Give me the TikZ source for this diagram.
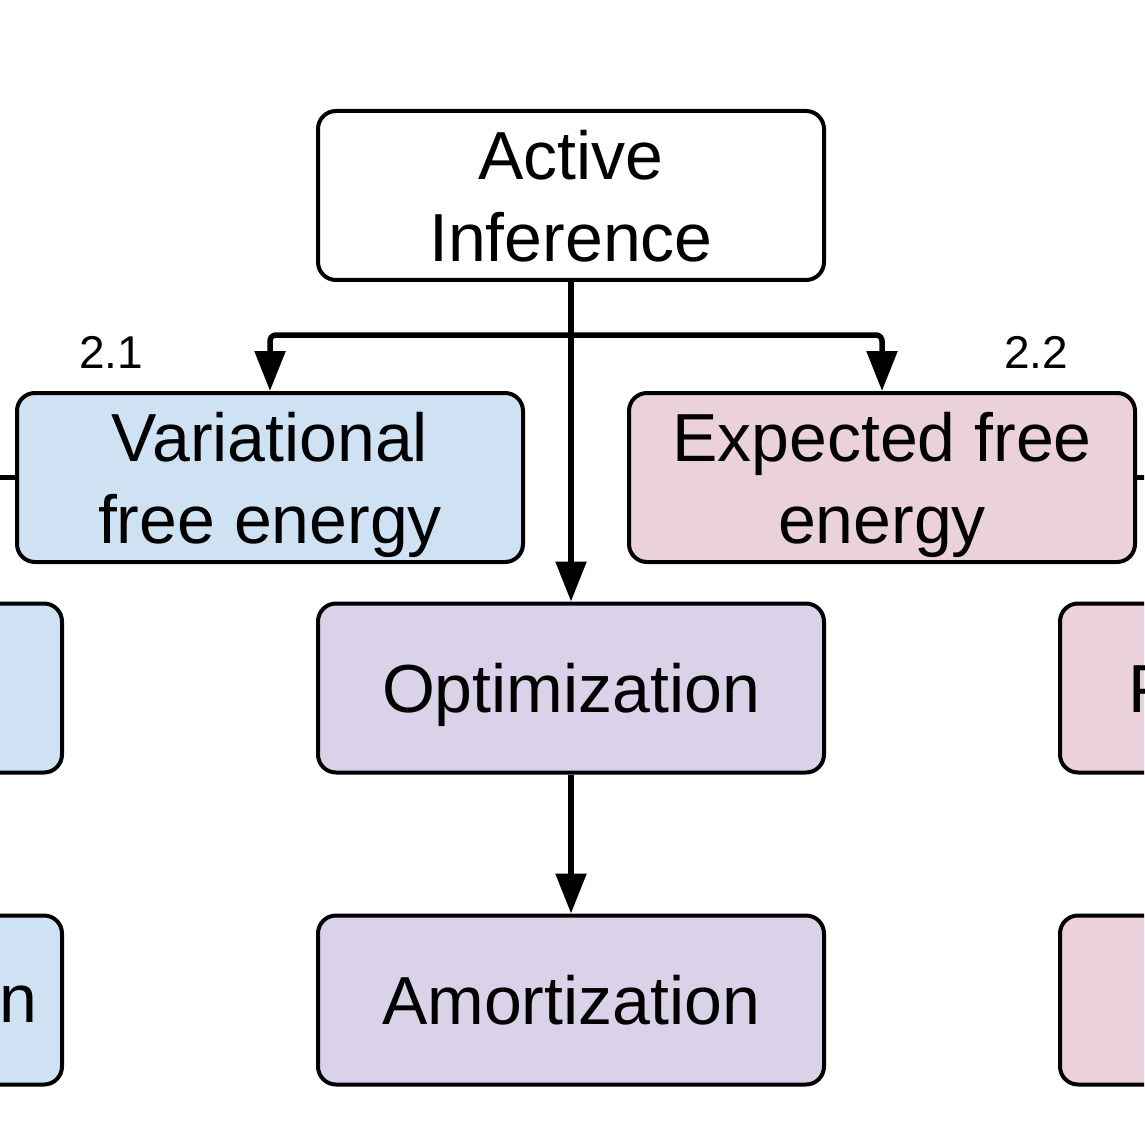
\documentclass[tikz,border=0pt]{standalone}
\usepackage{fontspec}
\setmainfont{Liberation Sans}
\usetikzlibrary{arrows.meta,positioning,calc}
\definecolor{vfeblue}{HTML}{CFE2F3}
\definecolor{efepink}{HTML}{EAD1DC}
\definecolor{optpurple}{HTML}{D9D2E9}

\begin{document}
\begin{tikzpicture}[>={Triangle[length=20pt,width=15pt]},
  font=\fontsize{34}{41}\selectfont,
  box/.style={draw,line width=2pt,rounded corners=9pt,minimum width=253pt,minimum height=84.5pt,align=center,inner sep=0pt,text depth=0pt},
  vfe/.style={box,fill=vfeblue},
  efe/.style={box,fill=efepink},
  opt/.style={box,fill=optpurple},
  root/.style={box,fill=white},
  sec/.style={font=\fontsize{23}{27}\selectfont},
  conn/.style={line width=2.75pt}]
\useasboundingbox (0,0) rectangle (572pt,-572pt);
\clip (0,0) rectangle (572pt,-572pt);
\node[root] (act) at (285.5pt,-97.75pt) {Active\\Inference};
\node[vfe] (vfe) at (135pt,-238.75pt) {Variational\\free energy};
\node[efe] (efe) at (441pt,-238.75pt) {Expected free\\energy};
\node[opt] (optim) at (285.5pt,-344pt) {Optimization};
\node[opt] (amort) at (285.5pt,-500pt) {Amortization};
\node[vfe,left=126pt of optim] (vfeA) {};
\node[vfe,left=126pt of amort] (vfeB) {};
\node[efe,right=116pt of optim] (efeA) {};
\node[efe,right=116pt of amort] (efeB) {};
% cut-off texts at the edges
\node[anchor=base east,inner sep=0pt] (txtn) at (19pt,-511pt) {n};
\node[anchor=base west,inner sep=0pt] (txtp) at (563.8pt,-356pt) {P};
% section numbers
\node[sec] (s21) at (55.5pt,-176pt) {2.1};
\node[sec] (s22) at (518pt,-176pt) {2.2};
% connectors
\coordinate (fork) at ($(act.south)+(0,-26.5pt)$);
\coordinate (vfeout) at ($(vfe.west)+(-20pt,0)$);
\coordinate (efeout) at ($(efe.east)+(20pt,0)$);
\draw[conn,->] (act) -- (optim);
\draw[conn,->] (optim) -- (amort);
\draw[conn,->,rounded corners=3pt] (fork) -| (vfe.north);
\draw[conn,->,rounded corners=3pt] (fork) -| (efe.north);
\draw[conn] (vfe.west) -- (vfeout);
\draw[conn] (efe.east) -- (efeout);
\end{tikzpicture}
\end{document}
